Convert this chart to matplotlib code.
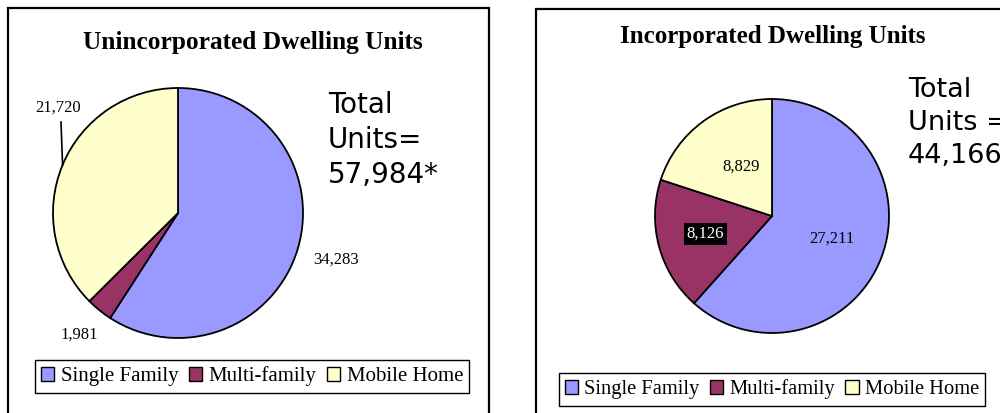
import numpy as np
import matplotlib
matplotlib.use("Agg")
import matplotlib.pyplot as plt
from matplotlib.patches import Rectangle, Patch

# data
categories = ['Single Family', 'Multi-family', 'Mobile Home']
colors = ['#9999FF', '#993366', '#FFFFCC']
unincorporated = [34283, 1981, 21720]
incorporated = [27211, 8126, 8829]

W, H = 1000, 413
fig = plt.figure(figsize=(10, 4.13), dpi=100)


def px_axes(cx, cy, r):
    # square axes around a pie given in pixel coords (top-left origin)
    return fig.add_axes([(cx - r) / W, (H - cy - r) / H, 2 * r / W, 2 * r / H])


def mid_angles(vals):
    tot = sum(vals)
    ang = 90
    out = []
    for v in vals:
        span = v / tot * 360
        out.append(np.deg2rad(ang - span / 2))
        ang -= span
    return out


def fmt(v):
    return '{:,}'.format(v)


serif = 'Liberation Serif'
lab_size = 12

# panel borders
fig.add_artist(Rectangle((8 / W, -0.05), 481 / W, (H - 8) / H + 0.05, transform=fig.transFigure,
                         fill=False, lw=1.6, ec='black'))
fig.add_artist(Rectangle((536 / W, -0.05), 0.6, (H - 9) / H + 0.05, transform=fig.transFigure,
                         fill=False, lw=1.6, ec='black'))

# ---- left pie
ax1 = px_axes(178, 213, 125)
ax1.pie(unincorporated, colors=colors, startangle=90, counterclock=False,
        wedgeprops=dict(edgecolor='black', linewidth=1.3), radius=1)
ax1.set_xlim(-1, 1)
ax1.set_ylim(-1, 1)
ax1.set_aspect('equal')
ax1.axis('off')

m = mid_angles(unincorporated)
ax1.text(1.32 * np.cos(m[0]), 1.32 * np.sin(m[0]), fmt(unincorporated[0]),
         ha='center', va='center', fontsize=lab_size, family=serif, clip_on=False)
ax1.text(1.25 * np.cos(m[1]), 1.25 * np.sin(m[1]), fmt(unincorporated[1]),
         ha='center', va='center', fontsize=lab_size, family=serif, clip_on=False)
ax1.text(-0.96, 0.84, fmt(unincorporated[2]), ha='center', va='center', fontsize=lab_size,
         family=serif, clip_on=False)
# leader line to the mobile home slice
ax1.plot([-0.936, np.cos(m[2])], [0.728, np.sin(m[2])], color='black', lw=1.2, clip_on=False)

fig.text(253 / W, 1 - 42 / H, 'Unincorporated Dwelling Units', ha='center', va='center',
         fontsize=18.3, fontweight='bold', family=serif)
fig.text(328 / W, 1 - 140 / H, 'Total\nUnits=\n57,984*', ha='left', va='center',
         fontsize=20, family='DejaVu Sans', linespacing=1.33)

handles = [Patch(facecolor=c, edgecolor='black', lw=1) for c in colors]
fig.legend(handles, categories, loc='center', bbox_to_anchor=(252 / W, 1 - 376.5 / H),
           ncol=3, frameon=True, fancybox=False, edgecolor='black', framealpha=1,
           prop={'family': serif, 'size': 15}, handlelength=0.65, handleheight=0.65,
           handletextpad=0.3, columnspacing=0.5, borderpad=0.3)

# ---- right pie
ax2 = px_axes(772, 216, 117)
ax2.pie(incorporated, colors=colors, startangle=90, counterclock=False,
        wedgeprops=dict(edgecolor='black', linewidth=1.3), radius=1)
ax2.set_xlim(-1, 1)
ax2.set_ylim(-1, 1)
ax2.set_aspect('equal')
ax2.axis('off')

m = mid_angles(incorporated)
ax2.text(0.55 * np.cos(m[0]), 0.55 * np.sin(m[0]), fmt(incorporated[0]),
         ha='center', va='center', fontsize=lab_size, family=serif)
ax2.text(0.59 * np.cos(m[1]), 0.59 * np.sin(m[1]), fmt(incorporated[1]),
         ha='center', va='center', fontsize=lab_size, family=serif, color='white',
         bbox=dict(facecolor='black', edgecolor='none', pad=2))
ax2.text(0.5 * np.cos(m[2]) + 0.03, 0.5 * np.sin(m[2]) + 0.02, fmt(incorporated[2]),
         ha='center', va='center', fontsize=lab_size, family=serif)

fig.text(773 / W, 1 - 37 / H, 'Incorporated Dwelling Units', ha='center', va='center',
         fontsize=18, fontweight='bold', family=serif)
fig.text(908 / W, 1 - 123 / H, 'Total\nUnits =\n44,166', ha='left', va='center',
         fontsize=19.5, family='DejaVu Sans', linespacing=1.36)

fig.legend(handles, categories, loc='center', bbox_to_anchor=(772 / W, 1 - 389.5 / H),
           ncol=3, frameon=True, fancybox=False, edgecolor='black', framealpha=1,
           prop={'family': serif, 'size': 14.8}, handlelength=0.65, handleheight=0.65,
           handletextpad=0.3, columnspacing=0.5, borderpad=0.3)

fig.savefig('out.png', dpi=100)
